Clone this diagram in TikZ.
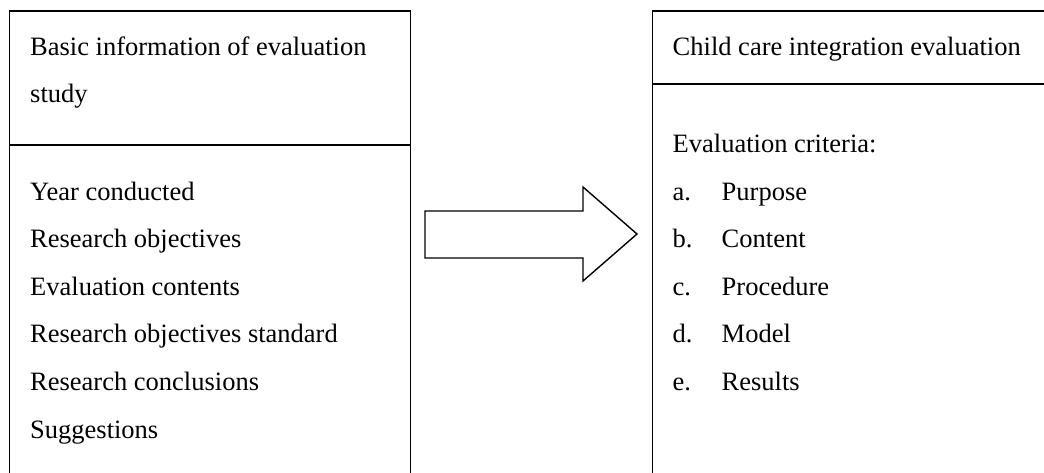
\documentclass[tikz,border=0pt]{standalone}
\usepackage{fontspec}
\setmainfont{Liberation Serif}
\begin{document}
\begin{tikzpicture}[x=1pt,y=-1pt,
  boxline/.style={draw=black, line width=1.6pt},
  txt/.style={anchor=base west, inner sep=0pt, font=\fontsize{26.5}{30}\selectfont},
  blockarrow/.style={draw=black, line width=1.4pt, fill=white, line join=miter}]
\clip (0,0) rectangle (1044,472);
\fill[white] (0,0) rectangle (1044,472);
% left box
\coordinate (LTL) at (9.5,11);
\draw[boxline] (9.5,490) -- (9.5,11) -- (410.5,11) -- (410.5,490);
\draw[boxline] (9.5,145) -- (410.5,145);
% right box
\draw[boxline] (652.5,490) -- (652.5,11) -- (1060,11);
\draw[boxline] (652.5,84) -- (1060,84);
% block arrow
\draw[blockarrow] (425,211) -- (583,211) -- (583,187) -- (637,234) -- (583,281) -- (583,258) -- (425,258) -- cycle;
% left texts
\node[txt] (lh1) at (30,55) {Basic information of evaluation};
\node[txt] (lh2) at (30,102) {study};
\node[txt] (l1) at (30,200) {Year conducted};
\node[txt] (l2) at (30,247.6) {Research objectives};
\node[txt] (l3) at (30,295.2) {Evaluation contents};
\node[txt] (l4) at (30,342.8) {Research objectives standard};
\node[txt] (l5) at (30,390.4) {Research conclusions};
\node[txt] (l6) at (30,438) {Suggestions};
% right texts
\node[txt] (rh) at (672.5,55) {Child care integration evaluation};
\node[txt] (r0) at (672.5,152.4) {Evaluation criteria:};
\node[txt] (ra) at (672.5,200) {a.};
\node[txt] (rat) at (721.5,200) {Purpose};
\node[txt] (rb) at (672.5,247.6) {b.};
\node[txt] (rbt) at (721.5,247.6) {Content};
\node[txt] (rc) at (672.5,295.2) {c.};
\node[txt] (rct) at (721.5,295.2) {Procedure};
\node[txt] (rd) at (672.5,342.8) {d.};
\node[txt] (rdt) at (721.5,342.8) {Model};
\node[txt] (re) at (672.5,390.4) {e.};
\node[txt] (ret) at (721.5,390.4) {Results};
\end{tikzpicture}
\end{document}
